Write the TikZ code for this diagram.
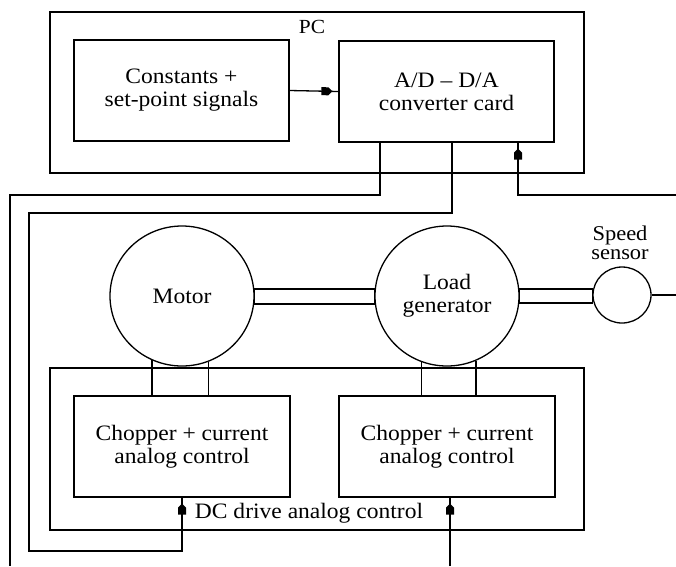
\documentclass[tikz,border=0pt]{standalone}
\usepackage{fontspec}
\setmainfont{Liberation Serif}[FakeStretch=1.07]
\usetikzlibrary{shapes.geometric,decorations.markings}
\begin{document}
\begin{tikzpicture}[x=1pt,y=-1pt,
  ln/.style={line width=1.3pt},
  box/.style={draw, line width=1.3pt, rectangle, inner sep=0pt, align=center},
  circ/.style={draw, ellipse, line width=1.3pt, inner sep=0pt},
  lbl/.style={align=center, inner sep=0pt, font=\fontsize{22}{23}\selectfont},
  tipmark/.style={postaction={decorate}, decoration={markings,
     mark=at position -6pt with {\fill (-11pt,4pt) -- (-4pt,4pt) -- (0pt,0pt) -- (-4pt,-4pt) -- (-11pt,-4pt) -- cycle;}}}
]
\useasboundingbox (0,0) rectangle (676,566);

% PC
\node[box, minimum width=534pt, minimum height=161pt] (pc) at (317,92.5) {};
\node[lbl, font=\fontsize{20}{22}\selectfont] (pclbl) at (312,27) {PC};
\node[box, lbl, minimum width=215pt, minimum height=101pt] (const) at (181.5,90.5) {Constants +\\set-point signals};
\node[box, lbl, minimum width=215pt, minimum height=101pt] (ad) at (446.5,91.5) {A/D \textendash{} D/A\\converter card};

% DC drive
\node[box, minimum width=534pt, minimum height=162pt] (dc) at (317,449) {};
\node[box, lbl, minimum width=216pt, minimum height=101pt] (ch1) at (182,446.5) {Chopper + current\\analog control};
\node[box, lbl, minimum width=216pt, minimum height=101pt] (ch2) at (447,446.5) {Chopper + current\\analog control};
\node[lbl] (dclbl) at (309,513) {DC drive analog control};

% machines
\node[circ, minimum width=144pt, minimum height=140pt] (motor) at (182,296) {};
\node[lbl] (motorlbl) at (motor) {Motor};
\node[circ, minimum width=144pt, minimum height=140pt] (load) at (447,296) {};
\node[lbl] (loadlbl) at (load) {Load\\generator};
\node[circ, minimum width=58pt, minimum height=56pt] (sensor) at (622,295) {};
\node[lbl, font=\fontsize{21}{19}\selectfont] (sensorlbl) at (620,243) {Speed\\sensor};

% shafts
\draw[ln] ([yshift=7pt]motor.east) rectangle ([yshift=-8pt]load.west);
\draw[ln] ([yshift=7pt]load.east) rectangle ([yshift=-8pt]sensor.west);
\coordinate (sout) at (676,295);
\draw[ln] (sensor.east) -- (sout);

% leads
\draw[ln] (motor.245) -- (motor.245 |- ch1.north);
\draw[ln] (motor.292) -- (motor.292 |- ch1.north);
\draw[ln] (load.249) -- (load.249 |- ch2.north);
\draw[ln] (load.294) -- (load.294 |- ch2.north);

% signals
\draw[ln, tipmark] (const.east) -- (ad.west);
\coordinate (aturn) at (10,195);
\coordinate (aend) at (10,566);
\draw[ln] ([xshift=-66.5pt]ad.south) |- (aturn) -- (aend);
\coordinate (bturn) at (29,213);
\coordinate (bturn2) at (29,551);
\draw[ln, tipmark] ([xshift=5.5pt]ad.south) |- (bturn) -- (bturn2) -| (ch1.south);
\coordinate (cstart) at (676,195);
\draw[ln, tipmark] (cstart) -| ([xshift=71.5pt]ad.south);
\coordinate (dstart) at (450,566);
\draw[ln, tipmark] (dstart) -- ([xshift=3pt]ch2.south);
\end{tikzpicture}
\end{document}
